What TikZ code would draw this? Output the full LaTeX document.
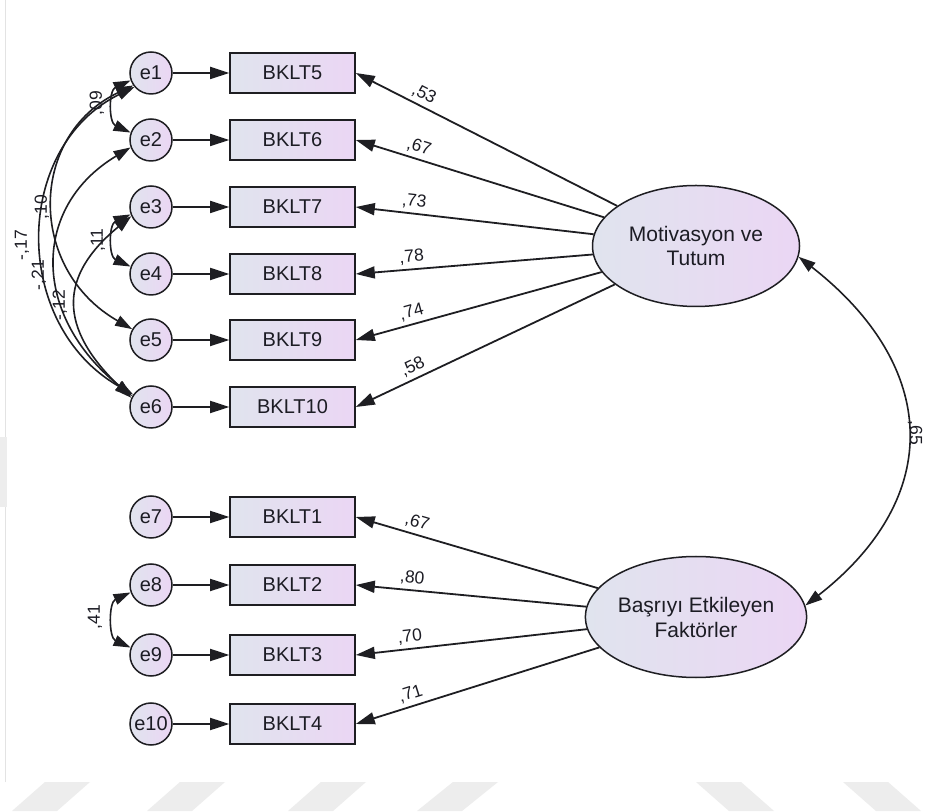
\documentclass[tikz,border=0pt]{standalone}
\usepackage{fontspec}
\setmainfont{Liberation Sans}
\usetikzlibrary{arrows.meta,shapes.geometric}

\definecolor{lineC}{RGB}{30,30,34}
\definecolor{shadeL}{RGB}{224,228,238}
\definecolor{shadeR}{RGB}{235,214,244}
\definecolor{textC}{RGB}{28,28,36}
\definecolor{markC}{RGB}{237,237,237}

\tikzset{
  obs/.style={draw=lineC, line width=1.6pt, left color=shadeL, right color=shadeR,
    minimum width=125pt, minimum height=40pt, inner sep=0pt,
    font=\fontsize{20}{24}\selectfont, text=textC},
  err/.style={circle, draw=lineC, line width=1.5pt, left color=shadeL, right color=shadeR,
    minimum size=42pt, inner sep=0pt, font=\fontsize{20}{24}\selectfont, text=textC},
  lat/.style={ellipse, draw=lineC, line width=1.5pt, left color=shadeL, right color=shadeR,
    minimum width=207pt, minimum height=121pt, inner sep=0pt, align=center,
    font=\fontsize{21}{25}\selectfont, text=textC},
  reg/.style={draw=lineC, line width=1.8pt, arrows={-Triangle[length=19pt,width=12pt]}},
  load/.style={reg},
  cov/.style={draw=lineC, line width=1.6pt,
    arrows={Triangle[length=17pt,width=11pt]-Triangle[length=17pt,width=11pt]}},
  est/.style={font=\fontsize{17.5}{20}\selectfont, text=textC, inner sep=1pt},
}

\begin{document}
\begin{tikzpicture}[x=1pt,y=1pt]
\useasboundingbox[fill=white] (0,0) rectangle (928,811);

% faint page marks
\draw[gray!22, line width=1pt] (5,29) -- (5,811);
\fill[markC] (0,304) -- (7,304) -- (7,374) -- (0,374) -- cycle;
\fill[markC] (12,0) -- (57,0) -- (90,29) -- (45,29) -- cycle;
\fill[markC] (147,0) -- (192,0) -- (225,29) -- (180,29) -- cycle;
\fill[markC] (288,0) -- (333,0) -- (366,29) -- (321,29) -- cycle;
\fill[markC] (417,0) -- (462,0) -- (498,29) -- (453,29) -- cycle;
\fill[markC] (729,0) -- (774,0) -- (741,29) -- (696,29) -- cycle;
\fill[markC] (876,0) -- (921,0) -- (888,29) -- (843,29) -- cycle;

% error terms
\node[err] (e1)  at (151,738) {e1};
\node[err] (e2)  at (151,671) {e2};
\node[err] (e3)  at (151,604) {e3};
\node[err] (e4)  at (151,537) {e4};
\node[err] (e5)  at (151,471) {e5};
\node[err] (e6)  at (151,404) {e6};
\node[err] (e7)  at (151,294) {e7};
\node[err] (e8)  at (151,226) {e8};
\node[err] (e9)  at (151,156) {e9};
\node[err] (e10) at (151,87)  {e10};

% observed items
\node[obs] (b5)  at (292.5,738) {BKLT5};
\node[obs] (b6)  at (292.5,671) {BKLT6};
\node[obs] (b7)  at (292.5,604) {BKLT7};
\node[obs] (b8)  at (292.5,537) {BKLT8};
\node[obs] (b9)  at (292.5,471) {BKLT9};
\node[obs] (b10) at (292.5,404) {BKLT10};
\node[obs] (b1)  at (292.5,294) {BKLT1};
\node[obs] (b2)  at (292.5,226) {BKLT2};
\node[obs] (b3)  at (292.5,156) {BKLT3};
\node[obs] (b4)  at (292.5,87)  {BKLT4};

% latent factors
\node[lat] (mot) at (696,565) {Motivasyon ve\\Tutum};
\node[lat] (bas) at (696,194) {Başrıyı Etkileyen\\Faktörler};

% error -> item
\foreach \e/\b in {e1/b5,e2/b6,e3/b7,e4/b8,e5/b9,e6/b10,e7/b1,e8/b2,e9/b3,e10/b4}
  \draw[reg] (\e) -- (\b);

% factor loadings
\draw[load] (mot) -- node[est, pos=0.76, sloped, above=3pt] {,53} (b5.east);
\draw[load] (mot) -- node[est, pos=0.76, sloped, above=3pt] {,67} (b6.east);
\draw[load] (mot) -- node[est, pos=0.76, sloped, above=3pt] {,73} (b7.east);
\draw[load] (mot) -- node[est, pos=0.76, sloped, above=3pt] {,78} (b8.east);
\draw[load] (mot) -- node[est, pos=0.76, sloped, above=3pt] {,74} (b9.east);
\draw[load] (mot) -- node[est, pos=0.76, sloped, above=3pt] {,58} (b10.east);
\draw[load] (bas) -- node[est, pos=0.76, sloped, above=3pt] {,67} (b1.east);
\draw[load] (bas) -- node[est, pos=0.76, sloped, above=3pt] {,80} (b2.east);
\draw[load] (bas) -- node[est, pos=0.76, sloped, above=3pt] {,70} (b3.east);
\draw[load] (bas) -- node[est, pos=0.76, sloped, above=3pt] {,71} (b4.east);

% factor covariance
\draw[cov] (mot.-6) to[out=-38,in=38,looseness=1.3] (bas.6);
\node[est, rotate=-90] (c12) at (915,378) {,65};

% error covariances
\draw[cov] (e1.200) .. controls +(-22,-10) and +(-22,10) .. (e2.160);
\draw[cov] (e3.200) .. controls +(-22,-10) and +(-22,10) .. (e4.160);
\draw[cov] (e8.200) .. controls +(-22,-10) and +(-22,10) .. (e9.160);
\draw[cov] (e1.215) .. controls +(-105,-50) and +(-105,60) .. (e5.150);
\draw[cov] (e1.220) .. controls +(-122,-60) and +(-122,70) .. (e6.145);
\draw[cov] (e2.200) .. controls +(-100,-60) and +(-100,80) .. (e6.150);
\draw[cov] (e3.205) .. controls +(-73,-60) and +(-73,70) .. (e6.155);

\node[est, rotate=90] (k12) at (97,708) {,09};
\node[est, rotate=90] (k34) at (98,571) {,11};
\node[est, rotate=90] (k89) at (95,194) {,41};
\node[est, rotate=90] (k15) at (42,604) {,10};
\node[est, rotate=90] (k16) at (22,566) {-,17};
\node[est, rotate=90] (k26) at (39,536) {-,21};
\node[est, rotate=90] (k36) at (60,506) {-,12};
\end{tikzpicture}
\end{document}
